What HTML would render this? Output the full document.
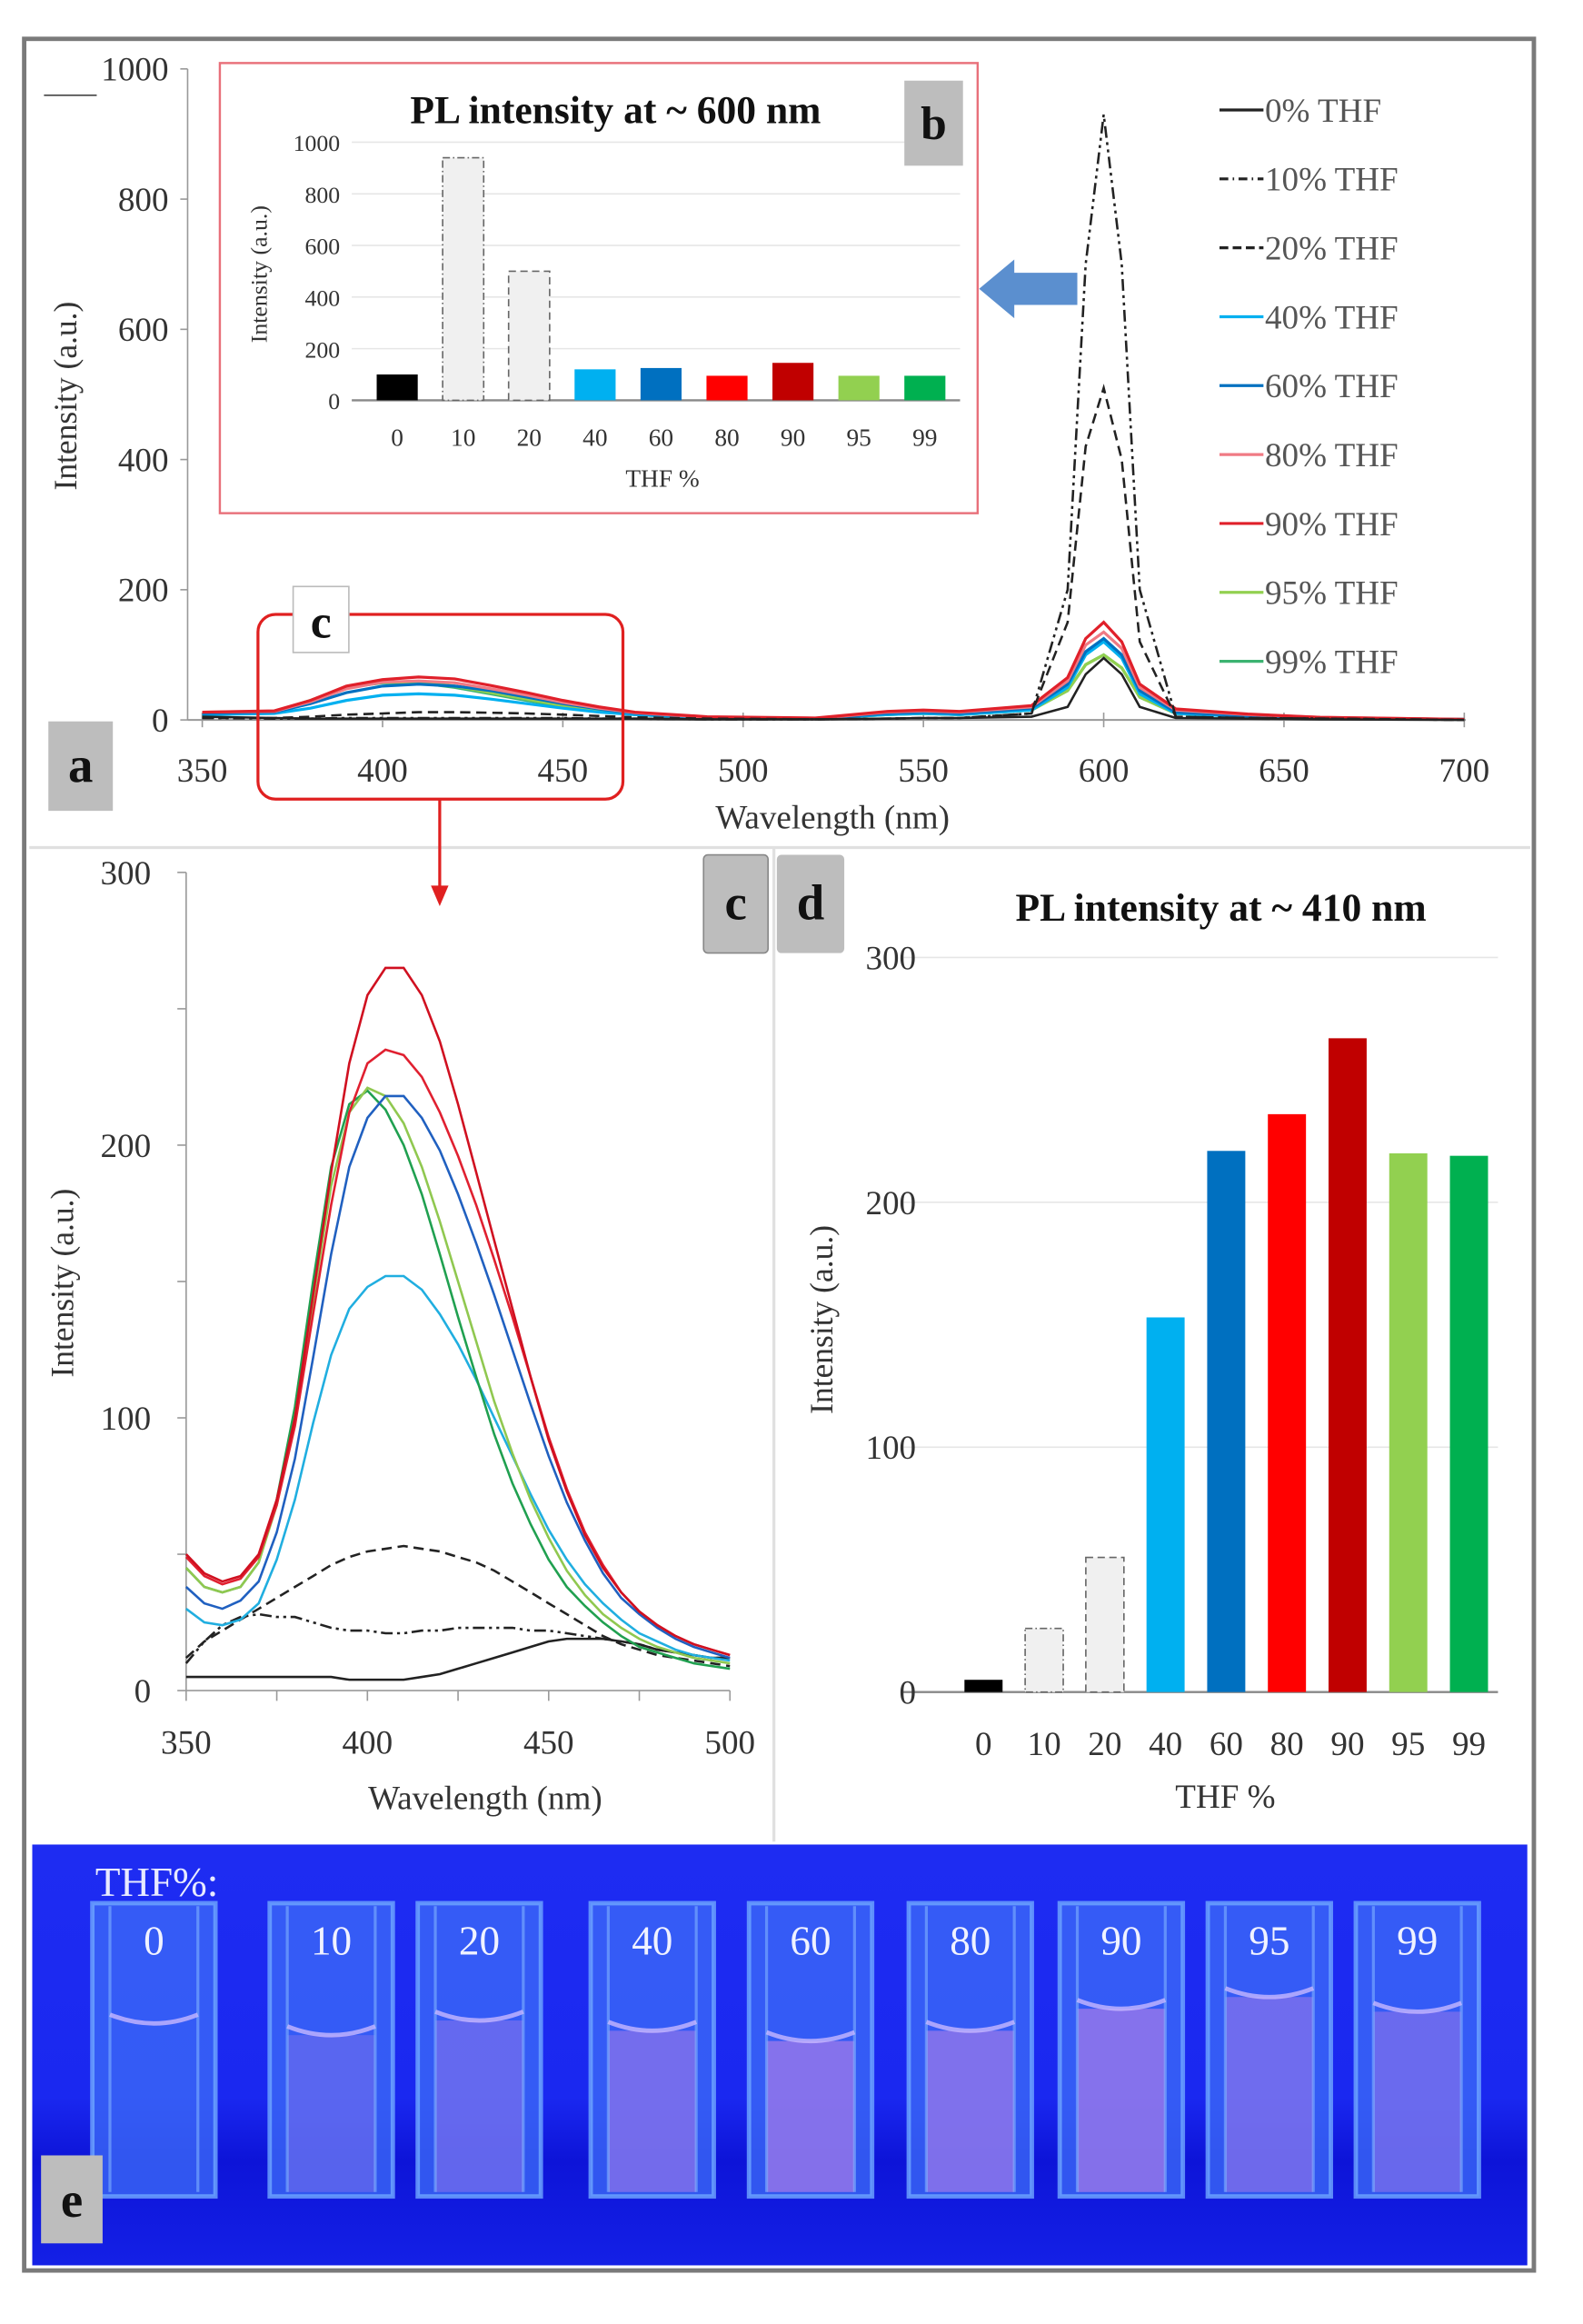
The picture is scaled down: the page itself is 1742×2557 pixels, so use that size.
<!DOCTYPE html>
<html><head><meta charset="utf-8"><style>
html,body{margin:0;padding:0;background:#fff}
svg{display:block;font-family:"Liberation Serif",serif}
</style></head><body>
<svg id="fig" xmlns="http://www.w3.org/2000/svg" width="1742" height="2557" viewBox="0 0 1080 1585" preserveAspectRatio="none">
<rect x="0" y="0" width="1080" height="1585" fill="#fff"/>
<rect x="16.5" y="26.5" width="1030" height="1522" fill="#fff" stroke="#7a7a7a" stroke-width="3"/>
<line x1="20" y1="578" x2="1044" y2="578" stroke="#e0e0e0" stroke-width="2"/>
<line x1="528" y1="578" x2="528" y2="1256" stroke="#e0e0e0" stroke-width="2"/>
<g id="pa"></g>
<g id="pb"></g>
<g id="pc"></g>
<g id="pd"></g>
<g id="pe"></g>
</svg>
<script>
// ---------- data ----------
const seriesNames=["0% THF","10% THF","20% THF","40% THF","60% THF","80% THF","90% THF","95% THF","99% THF"];
const seriesColors=["#222","#222","#222","#00b0f0","#0070c0","#f07a84","#e0202a","#92d050","#3cb371"];
const seriesDash=["","8 3 2 3 2 3","7 4","","","","","",""];
const gridA=[350,370,380,390,400,410,420,430,440,450,460,470,490,520,540,550,560,580,590,595,600,605,610,620,640,660,700];
const a0=[5,3,2,2,2,2,2,2,2,2,2,2,1,1,2,3,3,5,20,70,95,70,20,3,2,1,0];
const a10=[3,2,2,3,3,3,3,3,3,3,2,2,1,1,2,3,3,10,200,700,930,700,200,5,3,2,0];
const a20=[3,3,5,8,10,12,12,11,10,8,6,4,2,1,2,3,3,10,150,420,510,400,120,5,3,2,0];
const a40=[8,10,18,30,38,40,38,32,25,18,12,8,3,2,8,10,8,15,50,100,120,95,40,10,5,3,1];
const a60=[10,12,25,42,52,55,52,45,35,25,17,10,4,2,10,12,10,18,55,105,125,100,45,12,6,3,1];
const a80=[12,13,28,48,58,60,57,48,38,27,18,11,4,2,12,14,12,20,60,115,135,110,50,15,8,4,1];
const a90=[12,14,30,52,62,66,63,53,42,30,20,12,5,3,13,15,13,22,65,125,150,120,55,17,9,4,1];
const a95=[11,13,30,50,58,58,52,42,32,22,14,9,3,2,8,10,8,15,45,85,100,80,35,10,5,3,1];
const a99=[11,13,30,50,57,57,50,40,30,21,13,8,3,2,8,10,8,15,45,85,100,80,35,10,5,3,1];
const gridC=[350,355,360,365,370,375,380,385,390,395,400,405,410,415,420,425,430,435,440,445,450,455,460,465,470,475,480,485,490,495,500];
const c0=[5,5,5,5,5,5,5,5,5,4,4,4,4,5,6,8,10,12,14,16,18,19,19,19,18,17,15,14,13,12,12];
const c10=[10,18,24,27,28,27,27,25,23,22,22,21,21,22,22,23,23,23,23,22,22,21,20,19,18,17,15,14,13,12,12];
const c20=[12,18,22,26,30,34,38,42,46,49,51,52,53,52,51,49,47,44,40,36,32,28,24,20,17,15,13,12,11,10,9];
const c40=[30,25,24,26,32,48,70,98,123,140,148,152,152,147,138,127,114,100,86,72,59,48,39,32,26,21,18,15,13,12,11];
const c60=[38,32,30,33,40,58,85,122,160,192,210,218,218,210,198,182,164,145,125,105,86,69,55,43,34,28,23,19,16,14,12];
const c80=[49,42,39,41,49,68,97,138,178,212,230,235,233,225,212,196,178,158,137,115,93,74,58,46,36,29,24,20,17,15,13];
const c90=[50,43,40,42,50,70,100,145,190,230,255,265,265,255,238,215,190,165,140,115,92,73,57,45,36,29,24,20,17,15,13];
const c95=[45,38,36,38,47,68,100,143,185,212,221,218,208,192,172,150,128,106,87,70,56,44,35,28,23,19,16,14,12,11,10];
const c99=[45,38,36,38,47,70,104,150,192,215,220,213,200,182,160,137,115,94,76,61,48,38,31,25,20,16,14,12,10,9,8];
const thfCats=["0","10","20","40","60","80","90","95","99"];
const pl600=[100,940,500,120,125,95,145,95,95];
const pl410=[5,26,55,153,221,236,267,220,219];
const ticksA_x=[350,400,450,500,550,600,650,700];
const ticksA_y=[0,200,400,600,800,1000];
const ticksB_y=[0,200,400,600,800,1000];
const ticksC_x=[350,400,450,500];
const ticksC_y=[0,100,200,300];
const ticksD_y=[0,100,200,300];
const barColors=["#000","#f0f0f0","#f0f0f0","#00b0f0","#0070c0","#ff0000","#c00000","#92d050","#00b050"];

const NS="http://www.w3.org/2000/svg";
function mk(parent,tag,attrs,text){const e=document.createElementNS(NS,tag);for(const k in attrs)e.setAttribute(k,attrs[k]);if(text!==undefined)e.textContent=text;parent.appendChild(e);return e;}
function path(xs,ys,fx,fy){return xs.map((x,i)=>(i?"L":"M")+fx(x).toFixed(1)+","+fy(ys[i]).toFixed(1)).join("");}

// ---------- panel a ----------
const pa=document.getElementById('pa');
const axX=v=>138+(v-350)*(999-138)/350, axY=v=>491-v*(491-47)/1000;
let e=mk(pa,'line',{x1:128,y1:47,x2:128,y2:491,stroke:'#999','stroke-width':1});

e=mk(pa,'line',{x1:128,y1:491,x2:1000,y2:491,stroke:'#999','stroke-width':1.2});

mk(pa,'line',{x1:30,y1:65,x2:66,y2:65,stroke:'#444','stroke-width':1});
ticksA_y.forEach(t=>{
  e=mk(pa,'text',{x:115,y:axY(t)+8,'text-anchor':'end','font-size':23,fill:'#333'},String(t));
  
  mk(pa,'line',{x1:123,y1:axY(t),x2:128,y2:axY(t),stroke:'#999'});
});
ticksA_x.forEach(t=>{
  e=mk(pa,'text',{x:axX(t),y:533,'text-anchor':'middle','font-size':23,fill:'#333'},String(t));
  
  mk(pa,'line',{x1:axX(t),y1:486,x2:axX(t),y2:496,stroke:'#999'});
});
e=mk(pa,'text',{x:568,y:565,'text-anchor':'middle','font-size':23,fill:'#333'},'Wavelength (nm)');

e=mk(pa,'text',{x:0,y:0,transform:'translate(52,270) rotate(-90)','text-anchor':'middle','font-size':22,fill:'#333'},'Intensity (a.u.)');

const seriesA=[a0,a10,a20,a40,a60,a80,a90,a95,a99];
[8,7,3,4,5,6,2,1,0].forEach(i=>{
  e=mk(pa,'path',{d:path(gridA,seriesA[i],axX,axY),fill:'none',stroke:seriesColors[i],'stroke-width':i<3?1.6:2,'stroke-dasharray':seriesDash[i]});
  
});
seriesNames.forEach((n,i)=>{
  const y=75+i*47;
  e=mk(pa,'g',{});
  
  mk(e,'line',{x1:832,y1:y,x2:862,y2:y,stroke:seriesColors[i],'stroke-width':2,'stroke-dasharray':seriesDash[i]?(i==1?'6 3 1 3':'6 3'):''});
  mk(e,'text',{x:863,y:y+8,'font-size':23,fill:'#555'},n);
});
e=mk(pa,'rect',{x:33,y:492,width:44,height:61,fill:'#bdbdbd'});

mk(pa,'text',{x:55,y:533,'text-anchor':'middle','font-size':34,'font-weight':'bold',fill:'#111'},'a');
e=mk(pa,'rect',{x:176,y:419,width:249,height:126,rx:12,fill:'none',stroke:'#e02020','stroke-width':2});

e=mk(pa,'rect',{x:200,y:400,width:38,height:45,fill:'#fff',stroke:'#bbb','stroke-width':1});

mk(pa,'text',{x:219,y:435,'text-anchor':'middle','font-size':32,'font-weight':'bold',fill:'#111'},'c');
mk(pa,'line',{x1:300,y1:545,x2:300,y2:608,stroke:'#e02020','stroke-width':2});
e=mk(pa,'path',{d:'M294,604 L306,604 L300,618 Z',fill:'#e02020'});

e=mk(pa,'path',{d:'M668,197 L692,177 L692,186 L735,186 L735,208 L692,208 L692,217 Z',fill:'#5b8fcf'});


// ---------- panel b inset ----------
const pb=document.getElementById('pb');
e=mk(pb,'rect',{x:150,y:43,width:517,height:307,fill:'#fff',stroke:'#e8707a','stroke-width':1.5});

const bY=v=>273-v*(273-97)/1000, bX=i=>271+i*45;
ticksB_y.forEach(t=>{
  mk(pb,'line',{x1:240,y1:bY(t),x2:655,y2:bY(t),stroke:t?'#e6e6e6':'#888','stroke-width':t?1:1.5});
  e=mk(pb,'text',{x:232,y:bY(t)+6,'text-anchor':'end','font-size':16,fill:'#333'},String(t));
  
});
pl600.forEach((v,i)=>{
  e=mk(pb,'rect',{x:bX(i)-14,y:bY(v),width:28,height:bY(0)-bY(v),fill:barColors[i],stroke:(i==1||i==2)?'#666':'none','stroke-dasharray':i==1?'5 2 1 2':'5 3','stroke-width':1});
  
  e=mk(pb,'text',{x:bX(i),y:304,'text-anchor':'middle','font-size':17,fill:'#333'},thfCats[i]);
  
});
e=mk(pb,'text',{x:452,y:332,'text-anchor':'middle','font-size':17,fill:'#333'},'THF %');

e=mk(pb,'text',{x:0,y:0,transform:'translate(182,187) rotate(-90)','text-anchor':'middle','font-size':16,fill:'#333'},'Intensity (a.u.)');

e=mk(pb,'text',{x:420,y:84,'text-anchor':'middle','font-size':27,'font-weight':'bold',fill:'#111'},'PL intensity at ~ 600 nm');

e=mk(pb,'rect',{x:617,y:55,width:40,height:58,fill:'#bdbdbd'});

mk(pb,'text',{x:637,y:95,'text-anchor':'middle','font-size':32,'font-weight':'bold',fill:'#111'},'b');

// ---------- panel c ----------
const pc=document.getElementById('pc');
const cX=v=>127+(v-350)*(498-127)/150, cY=v=>1153-v*(1153-595)/300;
mk(pc,'line',{x1:127,y1:595,x2:127,y2:1153,stroke:'#999'});
mk(pc,'line',{x1:127,y1:1153,x2:498,y2:1153,stroke:'#999'});
[0,50,100,150,200,250,300].forEach(t=>mk(pc,'line',{x1:121,y1:cY(t),x2:127,y2:cY(t),stroke:'#999'}));
[350,375,400,425,450,475,500].forEach(t=>mk(pc,'line',{x1:cX(t),y1:1153,x2:cX(t),y2:1160,stroke:'#999'}));
ticksC_y.forEach(t=>{
  e=mk(pc,'text',{x:103,y:cY(t)+8,'text-anchor':'end','font-size':23,fill:'#333'},String(t));
  
});
ticksC_x.forEach(t=>{
  e=mk(pc,'text',{x:cX(t),y:1196,'text-anchor':'middle','font-size':23,fill:'#333'},String(t));
  
});
e=mk(pc,'text',{x:331,y:1234,'text-anchor':'middle','font-size':23,fill:'#333'},'Wavelength (nm)');

e=mk(pc,'text',{x:0,y:0,transform:'translate(50,875) rotate(-90)','text-anchor':'middle','font-size':22,fill:'#333'},'Intensity (a.u.)');

const seriesC=[c0,c10,c20,c40,c60,c80,c90,c95,c99];
const colorsC=["#222","#222","#222","#20aee0","#2060c0","#e02030","#d01020","#90c850","#20a050"];
[0,1,2,3,8,7,4,5,6].forEach(i=>{
  e=mk(pc,'path',{d:path(gridC,seriesC[i],cX,cY),fill:'none',stroke:colorsC[i],'stroke-width':1.6,'stroke-dasharray':seriesDash[i]});
  
});
e=mk(pc,'rect',{x:480,y:583,width:44,height:67,rx:3,fill:'#bdbdbd',stroke:'#888'});

mk(pc,'text',{x:502,y:627,'text-anchor':'middle','font-size':34,'font-weight':'bold',fill:'#111'},'c');

// ---------- panel d ----------
const pd=document.getElementById('pd');
const dY=v=>1154-v*(1154-653)/300, dX=i=>671+i*41.4;
ticksD_y.forEach(t=>{
  mk(pd,'line',{x1:615,y1:dY(t),x2:1022,y2:dY(t),stroke:t?'#e6e6e6':'#888','stroke-width':t?1:1.5});
  e=mk(pd,'text',{x:625,y:dY(t)+8,'text-anchor':'end','font-size':23,fill:'#333'},String(t));
  
});
pl410.forEach((v,i)=>{
  e=mk(pd,'rect',{x:dX(i)-13,y:dY(v),width:26,height:dY(0)-dY(v),fill:barColors[i],stroke:(i==1||i==2)?'#666':'none','stroke-dasharray':i==1?'5 2 1 2':'5 3','stroke-width':1});
  
  e=mk(pd,'text',{x:dX(i),y:1197,'text-anchor':'middle','font-size':23,fill:'#333'},thfCats[i]);
  
});
e=mk(pd,'text',{x:836,y:1233,'text-anchor':'middle','font-size':23,fill:'#333'},'THF %');

e=mk(pd,'text',{x:0,y:0,transform:'translate(568,900) rotate(-90)','text-anchor':'middle','font-size':22,fill:'#333'},'Intensity (a.u.)');

e=mk(pd,'text',{x:833,y:628,'text-anchor':'middle','font-size':27,'font-weight':'bold',fill:'#111'},'PL intensity at ~ 410 nm');

e=mk(pd,'rect',{x:530,y:583,width:46,height:67,rx:3,fill:'#bdbdbd'});

mk(pd,'text',{x:553,y:627,'text-anchor':'middle','font-size':34,'font-weight':'bold',fill:'#111'},'d');

// ---------- panel e photo ----------
const pe=document.getElementById('pe');
const defs=mk(pe,'defs',{});
const lg=mk(defs,'linearGradient',{id:'bg',x1:0,y1:0,x2:0,y2:1});
mk(lg,'stop',{offset:'0','stop-color':'#1e2cf2'});mk(lg,'stop',{offset:'0.6','stop-color':'#1a28f0'});mk(lg,'stop',{offset:'0.75','stop-color':'#0d14d8'});mk(lg,'stop',{offset:'1','stop-color':'#1420e6'});
e=mk(pe,'rect',{x:22,y:1258,width:1020,height:287,fill:'url(#bg)'});

e=mk(pe,'text',{x:65,y:1293,'font-size':28,fill:'#e8eaff'},'THF%:');

const cuvX=[105,226,327,445,553,662,765,866,967];
const meniscus=[1380,1388,1378,1385,1392,1385,1370,1362,1372];
const pink=[0,0.35,0.45,0.6,0.75,0.7,0.75,0.55,0.5];
cuvX.forEach((cx,i)=>{
  const g=mk(pe,'g',{});
  
  mk(g,'rect',{x:cx-42,y:1298,width:84,height:200,fill:'#3d6cf7',opacity:0.75});
  mk(g,'rect',{x:cx-30,y:meniscus[i],width:60,height:1495-meniscus[i],fill:'#a07ae8',opacity:pink[i]});
  mk(g,'rect',{x:cx-42,y:1298,width:84,height:200,fill:'none',stroke:'#6fa8ff','stroke-width':3,opacity:0.8});
  mk(g,'line',{x1:cx-30,y1:1300,x2:cx-30,y2:1495,stroke:'#7fb2ff','stroke-width':2,opacity:0.6});
  mk(g,'line',{x1:cx+30,y1:1300,x2:cx+30,y2:1495,stroke:'#7fb2ff','stroke-width':2,opacity:0.6});
  mk(g,'path',{d:`M${cx-30},${meniscus[i]-6} Q${cx},${meniscus[i]+6} ${cx+30},${meniscus[i]-6}`,fill:'none',stroke:'#c8b8ff','stroke-width':3,opacity:0.8});
  mk(g,'text',{x:cx,y:1333,'text-anchor':'middle','font-size':28,fill:'#f0f2ff'},thfCats[i]);
});
e=mk(pe,'rect',{x:28,y:1470,width:42,height:60,fill:'#bdbdbd'});

mk(pe,'text',{x:49,y:1512,'text-anchor':'middle','font-size':34,'font-weight':'bold',fill:'#111'},'e');
</script>
</body></html>
